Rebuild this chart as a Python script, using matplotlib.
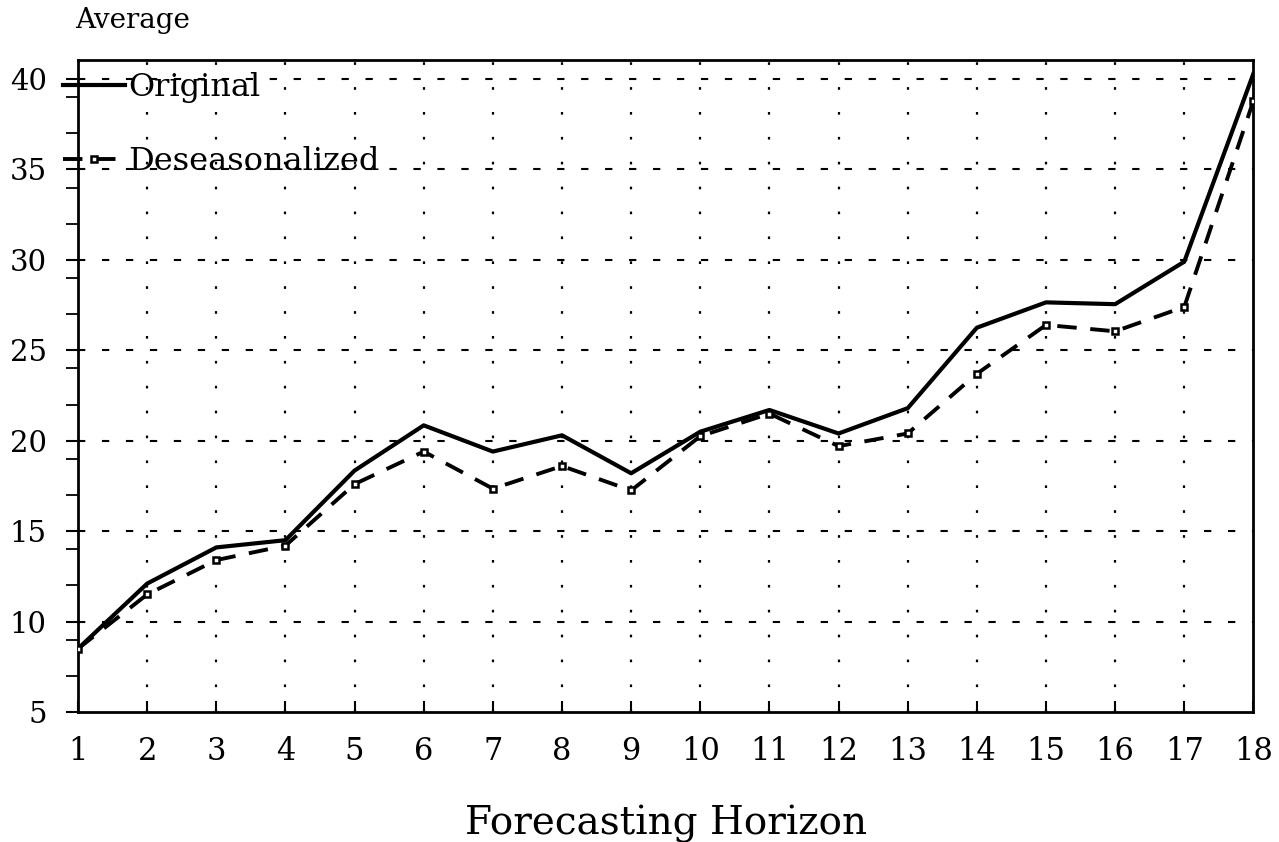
import numpy
import matplotlib
matplotlib.use('Agg')
import matplotlib.pyplot as plt
from matplotlib.ticker import FixedLocator

# valori
horizon = numpy.arange(1, 19)
original = [8.5, 12.1, 14.1, 14.5, 18.35, 20.85, 19.4, 20.3, 18.2,
            20.5, 21.7, 20.4, 21.8, 26.25, 27.65, 27.55, 29.9, 40.3]
deseasonalized = [8.5, 11.5, 13.4, 14.2, 17.6, 19.4, 17.35, 18.6, 17.25,
                  20.25, 21.5, 19.7, 20.4, 23.7, 26.4, 26.05, 27.4, 38.8]
y_ticks = [5, 10, 15, 20, 25, 30, 35, 40]
y_minor = [7, 9, 12, 14, 17, 19, 22, 24, 27, 29, 32, 34, 37, 39]

plt.rcParams['font.family'] = ['DejaVu Serif']

fig = plt.figure(figsize=(12.79, 8.42), dpi=100)
ax = fig.add_axes([0.061, 0.1544, 0.919, 0.7743])

ax.plot(horizon, original, '-', color='black', lw=3, label='Original', zorder=3)
ax.plot(horizon, deseasonalized, '--', color='black', lw=2.8, dashes=(5, 3.5),
        marker='s', markersize=5, mfc='white', mec='black', mew=1.8,
        label='Deseasonalized', zorder=3)

ax.set_xlim(1, 18)
ax.set_ylim(5, 41.05)
ax.set_xticks(horizon)
ax.set_yticks(y_ticks)
ax.yaxis.set_minor_locator(FixedLocator(y_minor))

# griglia: orizzontale tratteggiata, verticale a puntini
for y in y_ticks[1:]:
    ax.axhline(y, color='black', lw=1.5, ls=(0, (3.5, 8)), zorder=1)
for x in horizon[1:-1]:
    ax.axvline(x, color='black', lw=1.6, ls=(0, (1.2, 10)), zorder=1)

for s in ax.spines.values():
    s.set_linewidth(2)

ax.tick_params(axis='x', direction='in', length=8, width=1.5, labelsize=22, pad=17)
ax.tick_params(axis='y', which='major', direction='out', length=8.6, width=1.5, labelsize=21, pad=14)
ax.tick_params(axis='y', which='minor', direction='out', length=8.6, width=1.3)

ax.set_xlabel('Forecasting Horizon', fontsize=28, labelpad=28)
fig.text(0.059, 0.976, 'Average', fontsize=20, va='center', ha='left')

ax.legend(loc='upper left', bbox_to_anchor=(-0.024, 1.001), frameon=False,
          fontsize=23, handlelength=1.95, handletextpad=0.1, labelspacing=1.34,
          borderaxespad=0.)

fig.savefig('out.png', dpi=100)
